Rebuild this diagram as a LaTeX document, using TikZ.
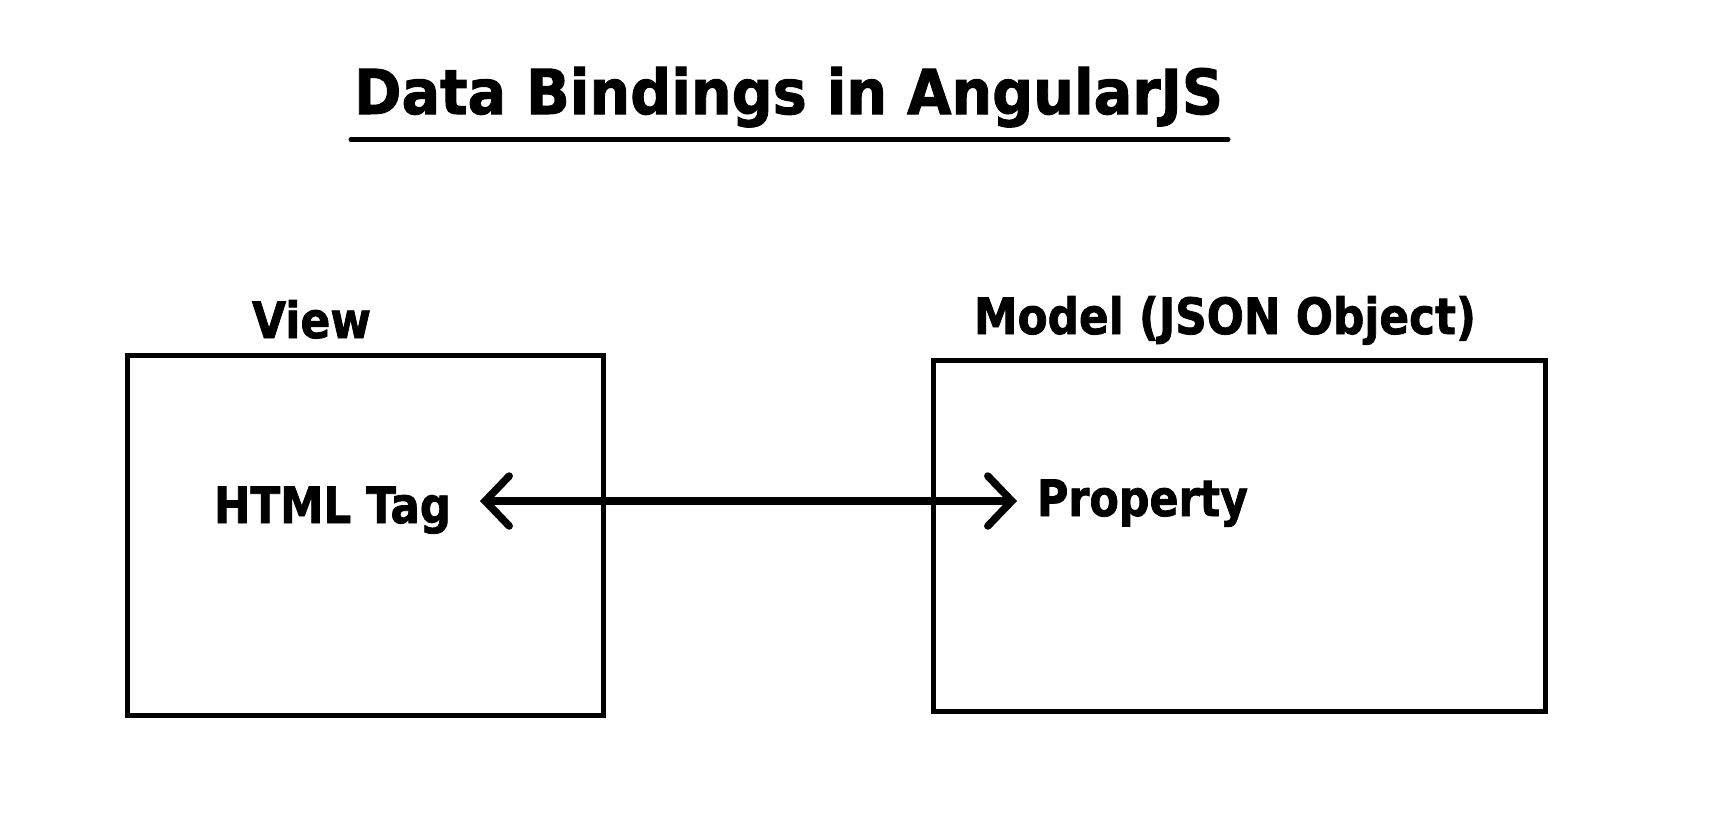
\documentclass[tikz,border=0pt]{standalone}
\usepackage{fontspec}
\usepackage{graphicx}
\setmainfont{DejaVu Sans}
\newfontfamily\heavyfont[FakeBold=1.6]{DejaVu Sans Bold}
\usetikzlibrary{arrows.meta}
\tikzset{
  lbl/.style={inner sep=0pt, outer sep=0pt, anchor=base west, font=\heavyfont},
  boxnode/.style={draw, line width=5pt, inner sep=0pt},
  arr/.style={line width=7.5pt, {Straight Barb[length=24pt,width=50pt,line cap=round]}-{Straight Barb[length=24pt,width=50pt,line cap=round]}}
}
\newcommand{\fitw}[3]{\fontsize{#2}{#2}\selectfont\resizebox{#1}{\height}{#3}}
\begin{document}
\begin{tikzpicture}[x=1pt,y=-1pt]
\useasboundingbox[fill=white] (0,0) rectangle (1736,830);
% title
\node[lbl] (title) at (354,114) {\fitw{869pt}{62pt}{Data Bindings in AngularJS}};
\coordinate (ul1) at (351,139.5);
\coordinate (ul2) at (1228,139.5);
\draw[line width=5pt, line cap=round] (ul1) -- (ul2);
% boxes
\node[boxnode, minimum width=476pt, minimum height=360pt] (viewbox) at (365,535) {};
\node[boxnode, minimum width=612pt, minimum height=351pt] (modelbox) at (1239,535.5) {};
% labels
\node[lbl] (view) at (252,338) {\fitw{119pt}{50pt}{View}};
\node[lbl] (model) at (974,334) {\fitw{502pt}{50pt}{Model (JSON Object)}};
\node[lbl] (html) at (214,523) {\fitw{237pt}{50pt}{HTML Tag}};
\node[lbl] (prop) at (1037,516) {\fitw{211pt}{50pt}{Property}};
% arrow
\coordinate (lt) at (480,501);
\coordinate (rt) at (1017,501);
\draw[arr] (lt) -- (rt);
\end{tikzpicture}
\end{document}
